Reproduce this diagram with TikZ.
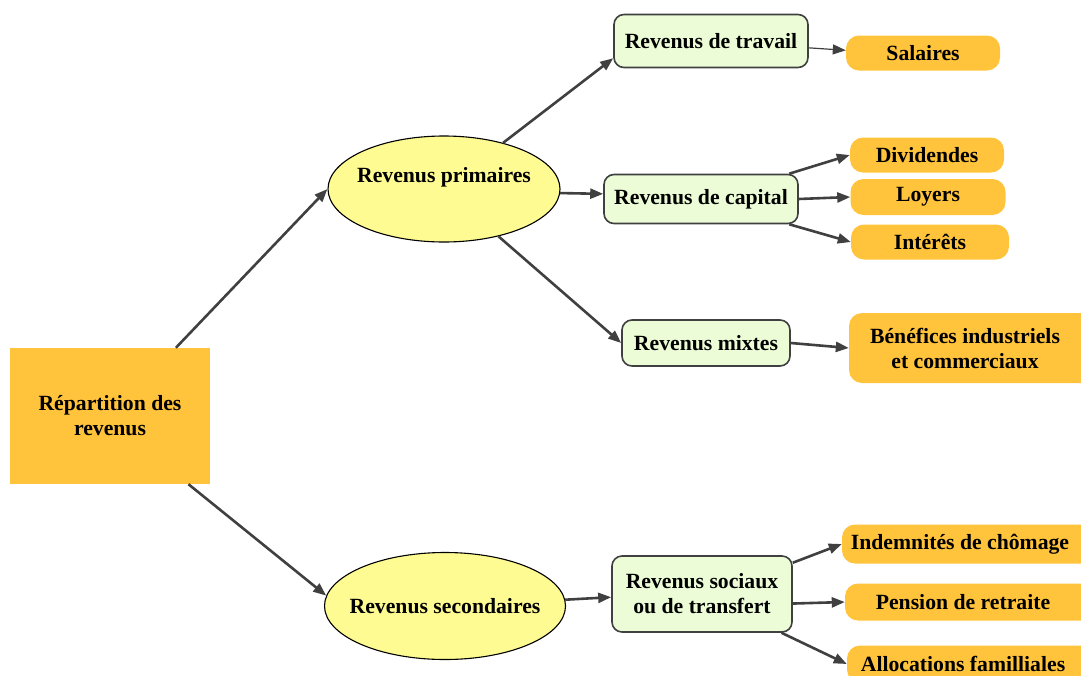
\documentclass[tikz,border=0pt]{standalone}
\usepackage{fontspec}
\setmainfont{Liberation Serif}
\usetikzlibrary{shapes.geometric,arrows.meta}

\definecolor{orangef}{HTML}{FFC33C}
\definecolor{jaunef}{HTML}{FFFB93}
\definecolor{vertf}{HTML}{EBFCD6}
\definecolor{trait}{HTML}{404040}

\tikzset{
  txt/.style={font=\fontsize{21.7}{25}\selectfont\bfseries, align=center, inner sep=0pt},
  racine/.style={txt, fill=orangef, minimum width=200pt, minimum height=136pt},
  bulle/.style={txt, ellipse, draw=black, line width=1.1pt, fill=jaunef},
  branche/.style={txt, draw=trait, line width=1.6pt, fill=vertf, rounded corners=10pt},
  feuille/.style={txt, fill=orangef, rounded corners=13pt},
  fleche/.style={draw=trait, line width=2.6pt, -{Triangle[length=13pt,width=10pt]}},
}

\begin{document}
\begin{tikzpicture}[x=1pt,y=-1pt]
    \useasboundingbox (0,0) rectangle (1081,675);

    % niveau 1 et 2
    \node[racine] (rep) at (110,416) {Répartition des\\revenus};
    \node[bulle, minimum width=232pt, minimum height=106pt,
          label={[txt,yshift=12pt]center:Revenus primaires}] (prim) at (444,189) {};
    \node[bulle, minimum width=241pt, minimum height=107pt,
          label={[txt]center:Revenus secondaires}] (sec) at (445,606) {};

    % niveau 3
    \node[branche, minimum width=194pt, minimum height=53pt] (trav) at (711,41) {Revenus de travail};
    \node[branche, minimum width=194pt, minimum height=49pt] (cap) at (701,199) {Revenus de capital};
    \node[branche, minimum width=168pt, minimum height=46pt] (mix) at (706,343) {Revenus mixtes};
    \node[branche, minimum width=180pt, minimum height=76pt] (soc) at (702,594) {Revenus sociaux\\ou de transfert};

    % feuilles
    \node[feuille, minimum width=154pt, minimum height=35pt] (sal) at (923,53) {Salaires};
    \node[feuille, minimum width=154pt, minimum height=35pt] (div) at (927,155) {Dividendes};
    \node[feuille, minimum width=155pt, minimum height=36pt] (loy) at (928,197) {Loyers};
    \node[feuille, minimum width=158pt, minimum height=35pt] (int) at (930,242) {Intérêts};
    \node[feuille, minimum width=260pt, minimum height=70pt] (ben) at (979,348)
        {Bénéfices industriels\hspace*{28pt}\\et commerciaux\hspace*{28pt}};
    \node[feuille, minimum width=260pt, minimum height=39pt] (ind) at (972,544) {Indemnités de chômage\hspace*{24pt}};
    \node[feuille, minimum width=260pt, minimum height=37pt] (pen) at (975,602) {Pension de retraite\hspace*{24pt}};
    \node[feuille, minimum width=260pt, minimum height=37pt] (alloc) at (977,664) {Allocations familliales\hspace*{28pt}};

    \draw[fleche] (rep.46) -- (prim.west);
    \draw[fleche] (rep.-41) -- (sec.175);
    \draw[fleche] (prim.38) -- (trav.190);
    \draw[fleche] (prim.-2) -- (cap.177);
    \draw[fleche] (prim.-41) -- (mix.west);
    \draw[fleche, line width=1.2pt] (trav.-4) -- (sal.178);
    \draw[fleche] (cap.16) -- (div.west);
    \draw[fleche] (cap.east) -- (loy.west);
    \draw[fleche] (cap.-16) -- (int.west);
    \draw[fleche] (mix.east) -- (ben.west);
    \draw[fleche] (sec.3) -- (soc.182);
    \draw[fleche] (soc.19) -- (ind.west);
    \draw[fleche] (soc.-6) -- (pen.west);
    \draw[fleche] (soc.-26) -- (alloc.west);
\end{tikzpicture}
\end{document}
